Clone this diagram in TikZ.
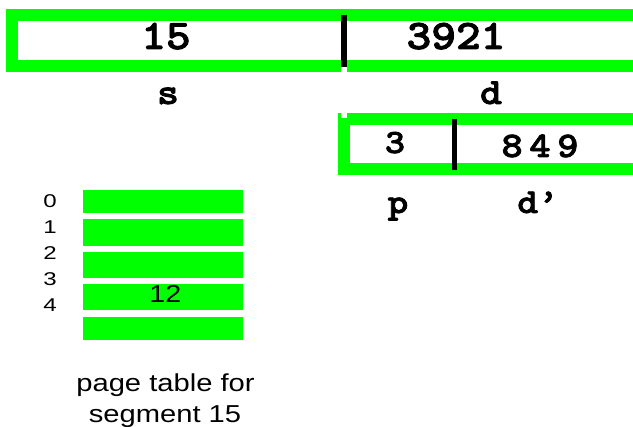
\documentclass[tikz,border=0pt]{standalone}
\usepackage{fontspec}
\setsansfont{Liberation Sans}
\newfontfamily\monob{lmmonolt10-bold.otf}[FakeBold=2]
\usepackage{graphicx}
\definecolor{grn}{RGB}{0,255,0}
\newcommand{\widetxt}[1]{\scalebox{1.12}[1]{#1}}
\newcommand{\widesans}[2]{\scalebox{#1}[1]{#2}}
\begin{document}
\begin{tikzpicture}[x=1pt,y=-1pt,
  frame/.style={draw=grn, line width=12pt},
  divider/.style={draw=black, line width=5.5pt},
  notch/.style={fill=white, draw=none},
  ptrow/.style={fill=grn, draw=none},
  mono/.style={font=\monob\fontsize{#1}{#1}\selectfont, inner sep=0pt, anchor=base},
  sans/.style={font=\sffamily\fontsize{#1}{#1}\selectfont, inner sep=0pt, anchor=base}]
\useasboundingbox (0,0) rectangle (633,427);
% segment address
\draw[frame] (12,15) rectangle (640,66.5);
\fill[notch] (341,60) rectangle (346.5,72.5);
\draw[divider] (343.75,15) -- (343.75,67);
\node[mono=42] (segnum) at (166,49) {\widetxt{15}};
\node[mono=42] (offd) at (456,49) {\widetxt{3921}};
\node[mono=37] (lbls) at (168,104) {\widetxt{s}};
\node[mono=37] (lbld) at (491,104) {\widetxt{d}};
% page address
\draw[frame] (344,119) rectangle (640,169);
\fill[notch] (341,112.5) rectangle (346.5,118);
\draw[divider] (454.5,119) -- (454.5,170);
\node[mono=34] (pagenum) at (395,153) {\widetxt{3}};
\node[mono=36] (offdp) at (540,157) {\widetxt{8\kern6pt4\kern6pt9}};
\node[mono=35] (lblp) at (398,213) {\widetxt{p}};
\node[mono=35] (lbldp) at (538,213) {\widetxt{d’}};
% page table
\fill[ptrow] (83,190) rectangle (243,213);
\fill[ptrow] (83,219) rectangle (243,246);
\fill[ptrow] (83,252) rectangle (243,278);
\fill[ptrow] (83,284) rectangle (243,310);
\fill[ptrow] (83,317) rectangle (243,340);
\node[sans=18.5] (i0) at (50,207.7) {\widesans{1.3}{0}};
\node[sans=18.5] (i1) at (50,233.7) {\widesans{1.3}{1}};
\node[sans=18.5] (i2) at (50,259.5) {\widesans{1.3}{2}};
\node[sans=18.5] (i3) at (50,285.5) {\widesans{1.3}{3}};
\node[sans=18.5] (i4) at (50,311.5) {\widesans{1.3}{4}};
\node[sans=24.5] (frame12) at (165.4,302.7) {\widesans{1.17}{12}};
\node[sans=24.5] (cap1) at (165.5,391.7) {\widesans{1.19}{page table for}};
\node[sans=24.5] (cap2) at (165,422.3) {\widesans{1.19}{segment 15}};
\end{tikzpicture}
\end{document}
